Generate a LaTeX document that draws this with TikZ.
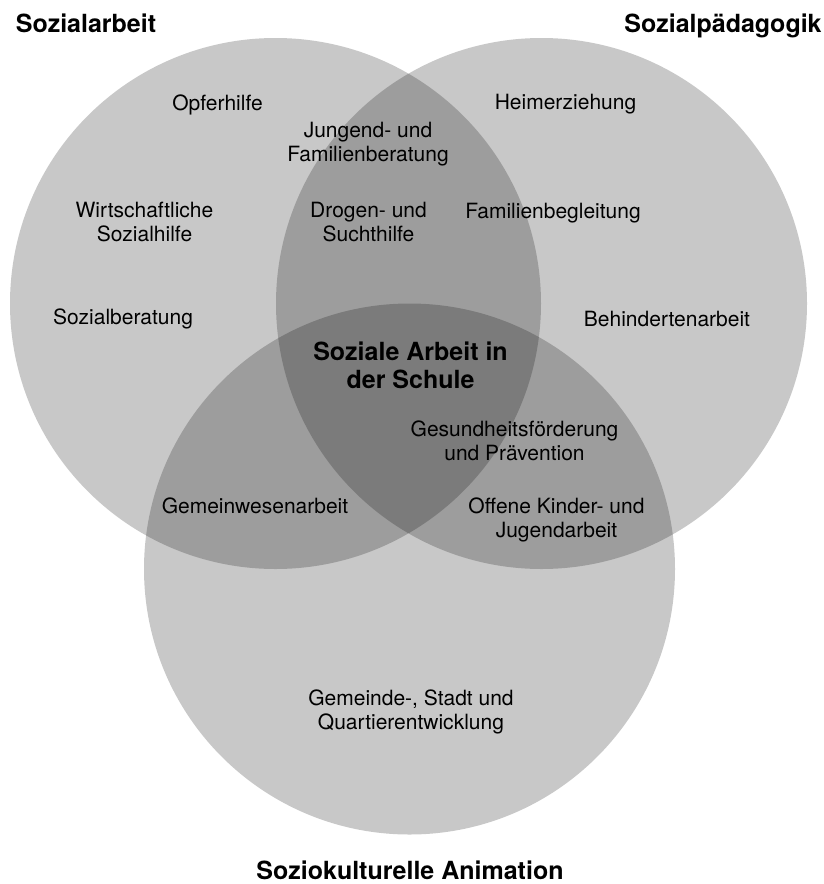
\documentclass[tikz,border=0pt]{standalone}
\usepackage{fontspec}
\setmainfont{TeX Gyre Heros}
\usepackage{tikz}

\begin{document}
\begin{tikzpicture}[
      x=1pt,y=-1pt,
      areablock/.style={circle,fill=black,fill opacity=0.216,minimum size=531pt,inner sep=0pt},
      itemlabel/.style={align=center,font=\fontsize{21}{24}\selectfont},
      headlabel/.style={align=center,inner sep=1pt,font=\fontsize{25}{28}\selectfont\bfseries}]
      \useasboundingbox (0,0) rectangle (824,884);

      % Circles
      \node[areablock] (arbeit)     at (275.5,303.5) {};
      \node[areablock] (paedagogik) at (541.5,303.5) {};
      \node[areablock] (animation)  at (409.5,569)   {};

      % Titles
      \node[headlabel,anchor=base] (tarbeit)     at (86,32)    {Sozialarbeit};
      \node[headlabel,anchor=base] (tpaedagogik) at (723,32)   {Sozialp\"adagogik};
      \node[headlabel,anchor=base] (tanimation)  at (410,879)  {Soziokulturelle Animation};

      % Labels
      \node[itemlabel,anchor=base] (opfer)     at (217.5,110.7) {Opferhilfe};
      \node[itemlabel]             (jugend)    at (368,144.6)   {Jungend- und\\Familienberatung};
      \node[itemlabel]             (wirtschaft)at (144.5,222.4) {Wirtschaftliche\\Sozialhilfe};
      \node[itemlabel]             (drogen)    at (368.5,222.4) {Drogen- und\\Suchthilfe};
      \node[itemlabel,anchor=base] (beratung)  at (123,324)     {Sozialberatung};
      \node[itemlabel,anchor=base] (heim)      at (565.5,109)   {Heimerziehung};
      \node[itemlabel,anchor=base] (familie)   at (553,218)     {Familienbegleitung};
      \node[itemlabel,anchor=base] (behinderte)at (667,326)     {Behindertenarbeit};
      \node[headlabel]             (schule)    at (410.5,365)   {Soziale Arbeit in\\der Schule};
      \node[itemlabel]             (gesundheit)at (514.5,440.4) {Gesundheitsf\"orderung\\und Pr\"avention};
      \node[itemlabel,anchor=base] (gemeinwesen)at (255,513)    {Gemeinwesenarbeit};
      \node[itemlabel]             (offene)    at (556.5,520)   {Offene Kinder- und\\Jugendarbeit};
      \node[itemlabel]             (quartier)  at (411,711.6)   {Gemeinde-, Stadt und\\Quartierentwicklung};

    \end{tikzpicture}
\end{document}
